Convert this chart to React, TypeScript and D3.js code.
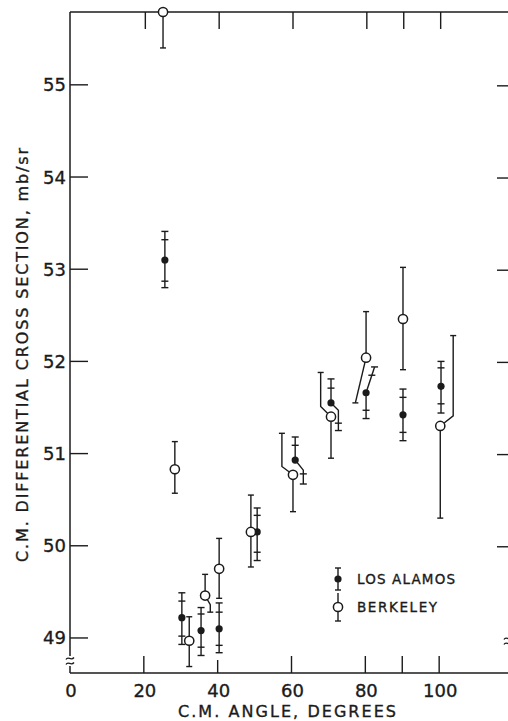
import React from 'react';
import * as d3 from 'd3';

// Berkeley (open circles): angle, value, error up / down
const berkeleyAngle = [25.2, 28.4, 32.3, 36.6, 40.4, 49.0, 60.4, 70.7, 80.2, 90.2, 100.3];
const berkeleyValue = [55.79, 50.83, 48.97, 49.46, 49.75, 50.15, 50.77, 51.40, 52.04, 52.46, 51.30];
const berkeleyErrUp = [0.39, 0.30, 0.26, 0.23, 0.33, 0.40, 0.45, 0.48, 0.50, 0.56, 0.98];
const berkeleyErrDown = [0.39, 0.26, 0.28, 0.18, 0.32, 0.38, 0.40, 0.45, 0.49, 0.55, 1.0];
// bent error bars: side, shift in degrees, value span of the slanted part
const berkeleyBendSide = ['', '', '', 'down', '', '', 'up', 'up', 'down', '', 'up'];
const berkeleyBendDx = [0, 0, 0, 1.4, 0, 0, -3.0, -2.8, -2.9, 0, 3.5];
const berkeleyBendSpan = [0, 0, 0, 0.1, 0, 0, 0.09, 0.11, 0.49, 0, 0.11];

// Los Alamos (filled dots): angle, value, inner and outer errors
const losAlamosAngle = [25.7, 30.3, 35.5, 40.4, 50.7, 61.0, 70.7, 80.2, 90.2, 100.5];
const losAlamosValue = [53.10, 49.22, 49.08, 49.10, 50.15, 50.93, 51.55, 51.66, 51.42, 51.73];
const losAlamosOuterUp = [0.31, 0.27, 0.25, 0.28, 0.26, 0.25, 0.26, 0.28, 0.28, 0.27];
const losAlamosInnerUp = [0.22, 0.18, 0.18, 0.18, 0.18, 0.16, 0.16, 0.19, 0.19, 0.20];
const losAlamosInnerDown = [0.23, 0.20, 0.18, 0.18, 0.22, 0.15, 0.22, 0.19, 0.19, 0.19];
const losAlamosOuterDown = [0.30, 0.29, 0.27, 0.26, 0.31, 0.26, 0.30, 0.28, 0.28, 0.29];
const losAlamosBendSide = ['', '', '', '', '', 'down', 'down', 'up', '', ''];
const losAlamosBendDx = [0, 0, 0, 0, 0, 2.2, 2.0, 2.3, 0, 0];
const losAlamosBendSpan = [0, 0, 0, 0, 0, 0.11, 0.08, 0.28, 0, 0];

const xTickLabels = [0, 20, 40, 60, 80, 100];
const xTickMarks = [20, 40, 60, 80, 90, 100];
const yTickLabels = [49, 50, 51, 52, 53, 54, 55];
const yRightTicks = [50, 51, 52, 53, 54, 55];

const ink = '#1b1b1b';
const font = 'DejaVu Sans, Verdana, sans-serif';

export default function App() {
  const width = 508;
  const height = 721;

  const x = d3.scaleLinear().domain([0, 120]).range([70, 513]);
  const y = d3.scaleLinear().domain([48.62, 55.79]).range([673, 12]);
  const [yMin, yMax] = y.domain();

  // one error bar from v to end value; optional bend
  function bar(a: number, v: number, end: number, side: string, dir: string, dx: number, span: number, ticks: number[], half: number, key: string) {
    const clipped = Math.min(Math.max(end, yMin), yMax);
    const bent = side === dir;
    const sgn = dir === 'up' ? 1 : -1;
    const pts: [number, number][] = [[x(a), y(v)]];
    if (bent) {
      pts.push([x(a + dx), y(v + sgn * span)]);
    }
    pts.push([x(a + (bent ? dx : 0)), y(clipped)]);
    const line = d3.line();
    const xAt = (t: number) => {
      if (!bent) return x(a);
      const f = Math.min(Math.abs(t - v) / span, 1);
      return x(a + dx * f);
    };
    return (
      <g key={key}>
        <path d={line(pts) || ''} fill="none" stroke={ink} strokeWidth={1.4} />
        {ticks.filter(t => t >= yMin && t <= yMax).map((t, i) => (
          <line key={i} x1={xAt(t) - half} x2={xAt(t) + half} y1={y(t)} y2={y(t)} stroke={ink} strokeWidth={1.4} />
        ))}
      </g>
    );
  }

  const squiggle = (cx: number, cy: number) => {
    const p = d3.path();
    for (const dy of [-2.5, 2.5]) {
      p.moveTo(cx - 4, cy + dy + 1);
      p.bezierCurveTo(cx - 2, cy + dy - 3, cx + 1, cy + dy + 3, cx + 4, cy + dy - 1);
    }
    return p.toString();
  };

  const txt = { fill: ink, stroke: ink, strokeWidth: 0.35 };

  return (
    <svg width={width} height={height} style={{ position: 'absolute', left: 0, top: 0, background: '#fff' }} fontFamily={font}>
      <rect x={0} y={0} width={width} height={height} fill="#fff" />
      {/* frame */}
      <line x1={x(0)} x2={x(120)} y1={y(yMax)} y2={y(yMax)} stroke={ink} strokeWidth={1.5} />
      <line x1={x(0)} x2={x(120)} y1={y(yMin)} y2={y(yMin)} stroke={ink} strokeWidth={1.5} />
      <line x1={x(0)} x2={x(0)} y1={y(yMax)} y2={y(yMin)} stroke={ink} strokeWidth={1.5} />
      <rect x={x(0) - 5} y={656} width={10} height={10} fill="#fff" />
      <path d={squiggle(x(0), 661)} fill="none" stroke={ink} strokeWidth={1.3} />
      <path d={squiggle(508, 641)} fill="none" stroke={ink} strokeWidth={1.3} />

      {/* ticks */}
      {xTickMarks.map(t => (
        <g key={'xt' + t}>
          <line x1={x(t)} x2={x(t)} y1={y(yMin)} y2={y(yMin) - (t === 40 ? 13 : 17)} stroke={ink} strokeWidth={1.4} />
          <line x1={x(t) + 1.5} x2={x(t) + 1.5} y1={y(yMax)} y2={y(yMax) + 17} stroke={ink} strokeWidth={1.4} />
        </g>
      ))}
      {yTickLabels.map(t => (
        <g key={'yt' + t}>
          <line x1={x(0)} x2={x(0) + 18} y1={y(t)} y2={y(t)} stroke={ink} strokeWidth={1.4} />
          <text x={x(0) - 4} y={y(t) + 6.5} textAnchor="end" fontSize={18} {...txt}>{t}</text>
        </g>
      ))}
      {yRightTicks.map(t => (
        <line key={'yr' + t} x1={497} x2={510} y1={y(t) + 1} y2={y(t) + 1} stroke={ink} strokeWidth={1.4} />
      ))}
      {xTickLabels.map(t => (
        <text key={'xl' + t} x={x(t) + 1} y={697} textAnchor="middle" fontSize={18} {...txt}>{t}</text>
      ))}

      {/* axis titles */}
      <text x={287} y={717} textAnchor="middle" fontSize={16} {...txt} textLength={218} lengthAdjust="spacing">C.M. ANGLE, DEGREES</text>
      <text transform="translate(28,355) rotate(-90)" textAnchor="middle" fontSize={16} {...txt} textLength={414} lengthAdjust="spacing">C.M. DIFFERENTIAL CROSS SECTION, mb/sr</text>

      {/* Los Alamos */}
      {losAlamosAngle.map((a, i) => {
        const v = losAlamosValue[i];
        const up = [v + losAlamosInnerUp[i], v + losAlamosOuterUp[i]];
        const down = [v - losAlamosInnerDown[i], v - losAlamosOuterDown[i]];
        return (
          <g key={'la' + i}>
            {bar(a, v, up[1], losAlamosBendSide[i], 'up', losAlamosBendDx[i], losAlamosBendSpan[i], up, 3.5, 'u')}
            {bar(a, v, down[1], losAlamosBendSide[i], 'down', losAlamosBendDx[i], losAlamosBendSpan[i], down, 3.5, 'd')}
            <circle cx={x(a)} cy={y(v)} r={3.6} fill={ink} />
          </g>
        );
      })}

      {/* Berkeley */}
      {berkeleyAngle.map((a, i) => {
        const v = berkeleyValue[i];
        const hi = v + berkeleyErrUp[i];
        const lo = v - berkeleyErrDown[i];
        return (
          <g key={'bk' + i}>
            {bar(a, v, hi, berkeleyBendSide[i], 'up', berkeleyBendDx[i], berkeleyBendSpan[i], [hi], 3, 'u')}
            {bar(a, v, lo, berkeleyBendSide[i], 'down', berkeleyBendDx[i], berkeleyBendSpan[i], [lo], 3, 'd')}
            <circle cx={x(a)} cy={y(v)} r={4.6} fill="#fff" stroke={ink} strokeWidth={1.5} />
          </g>
        );
      })}

      {/* legend */}
      <g>
        <line x1={338} x2={338} y1={568} y2={590} stroke={ink} strokeWidth={1.4} />
        <line x1={335} x2={341} y1={568} y2={568} stroke={ink} strokeWidth={1.4} />
        <line x1={335} x2={341} y1={590} y2={590} stroke={ink} strokeWidth={1.4} />
        <circle cx={338} cy={579} r={3.6} fill={ink} />
        <text x={357} y={584} fontSize={13.5} {...txt} textLength={98} lengthAdjust="spacing">LOS ALAMOS</text>
        <line x1={338} x2={338} y1={593} y2={621} stroke={ink} strokeWidth={1.4} />
        <line x1={335} x2={341} y1={621} y2={621} stroke={ink} strokeWidth={1.4} />
        <circle cx={338} cy={607} r={4.6} fill="#fff" stroke={ink} strokeWidth={1.5} />
        <text x={357} y={612} fontSize={13.5} {...txt} textLength={80} lengthAdjust="spacing">BERKELEY</text>
      </g>
    </svg>
  );
}
